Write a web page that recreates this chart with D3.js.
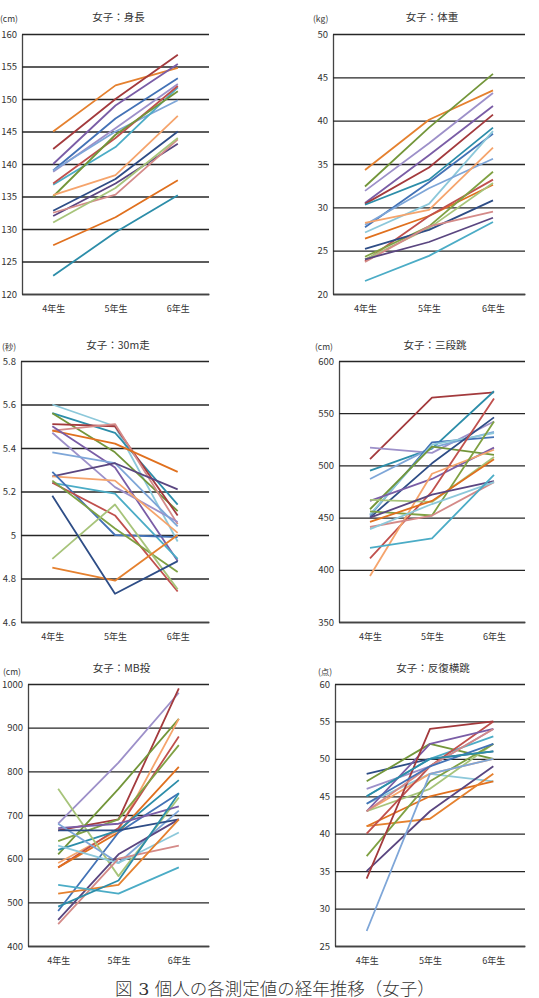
<!DOCTYPE html>
<html>
<head>
<meta charset="utf-8">
<script src="https://cdn.jsdelivr.net/npm/d3@7"></script>
<style>
  body { margin: 0; background: #fff; }
  svg text { font-family: "Noto Sans CJK JP", "Noto Sans", sans-serif; fill: #333; }
</style>
</head>
<body>
<div id="chart"></div>
<script>
// categories shared by all six panels
var grades = ["4年生", "5年生", "6年生"];

// 身長 (cm)
var heightSeries = [
  [145, 152.1, 154.8], [142.3, 150, 156.8], [140, 149, 155.4], [139, 147, 153.2],
  [138.8, 145.5, 152.3], [139, 145, 149.8], [136.8, 142.6, 151.8], [137, 144, 152],
  [135, 144.5, 151.2], [135.2, 138.3, 147.4], [132.8, 137.7, 145], [132, 137, 143.1],
  [132.5, 135.3, 143.8], [131, 136.3, 144], [127.5, 131.8, 137.5], [122.8, 129.5, 135.2]
];
var heightTicks = [120, 125, 130, 135, 140, 145, 150, 155, 160];

// 体重 (kg)
var weightSeries = [
  [34.3, 40.1, 43.5], [32.4, 39.2, 45.4], [31.9, 37.4, 43.2], [30.5, 36, 41.7],
  [30.4, 34.6, 40.7], [30.3, 33.2, 39.2], [27.7, 32.9, 38.5], [27.1, 30.4, 38.8],
  [28, 32.2, 35.6], [28.2, 29.7, 36.9], [26.4, 29, 32.6], [23.8, 29, 33.2],
  [24.3, 27.8, 34.1], [24, 27.6, 32.8], [25.2, 27.4, 30.8], [23.7, 27.8, 29.5],
  [24, 26, 28.8], [21.5, 24.4, 28.3]
];
var weightTicks = [20, 25, 30, 35, 40, 45, 50];

// 30m走 (秒)
var runSeries = [
  [5.60, 5.50, 4.97], [5.56, 5.47, 5.14], [5.56, 5.38, 5.11], [5.51, 5.50, 5.09],
  [5.48, 5.51, 5.05], [5.48, 5.42, 5.29], [5.50, 5.31, 4.88], [5.47, 5.22, 5.06],
  [5.38, 5.33, 5.04], [5.27, 5.33, 5.21], [5.27, 5.25, 5.01], [5.24, 5.19, 4.89],
  [5.29, 5.00, 4.99], [5.24, 5.09, 4.74], [5.25, 5.03, 4.83], [4.89, 5.14, 4.75],
  [4.85, 4.79, 5.00], [5.18, 4.73, 4.88]
];
var runTicks = [4.6, 4.8, 5, 5.2, 5.4, 5.6, 5.8];

// 三段跳 (cm)
var jumpSeries = [
  [506, 565, 570], [495, 516, 571], [517, 512, 542], [487, 517, 532],
  [452, 522, 527], [453, 520, 531], [458, 518, 510], [450, 502, 546],
  [466, 487, 517], [411, 475, 564], [394, 492, 515], [467, 465, 508],
  [456, 452, 542], [446, 466, 506], [450, 472, 485], [441, 452, 484],
  [439, 463, 484], [421, 430, 491]
];
var jumpTicks = [350, 400, 450, 500, 550, 600];

// MB投 (cm)
var throwSeries = [
  [680, 820, 980], [665, 690, 990], [610, 760, 920], [590, 665, 920],
  [580, 670, 880], [640, 690, 860], [580, 660, 810], [620, 665, 780],
  [480, 660, 750], [760, 560, 740], [670, 680, 720], [680, 590, 710],
  [665, 665, 690], [460, 610, 690], [630, 590, 660], [450, 600, 630],
  [520, 540, 690], [540, 520, 580], [490, 550, 750]
];
var throwTicks = [400, 500, 600, 700, 800, 900, 1000];

// 反復横跳 (点)
var stepSeries = [
  [48, 50, 51], [47, 52, 50], [46, 49, 54], [45, 50, 53], [44, 48, 47],
  [43, 48, 50], [43, 46, 52], [41, 45, 47], [41, 42, 48], [40, 49, 55],
  [43, 52, 54], [37, 47, 52], [35, 43, 49], [34, 54, 55], [27, 48, 50],
  [43, 49, 54], [44, 49, 52], [45, 50, 51]
];
var stepTicks = [25, 30, 35, 40, 45, 50, 55, 60];

// line colours (excel-ish palette)
var pal = {
  orange: "#E5812F", darkRed: "#A33A3D", purple: "#7A5DA6", blue: "#4372B6",
  lavender: "#9D90C9", lightBlue: "#7EA6D8", aqua: "#4BACC6", lightAqua: "#8CC8DA",
  red: "#C0504D", green: "#7FA143", lightGreen: "#A7C47A", peach: "#F5A46C",
  darkBlue: "#2E4D86", darkPurple: "#5A4680", pink: "#D48A88", darkOrange: "#E0701E",
  teal: "#2C8DA9", olive: "#73963A"
};
var heightColors = ["orange", "darkRed", "purple", "blue", "lavender", "lightBlue", "aqua", "red",
  "olive", "peach", "darkBlue", "darkPurple", "pink", "lightGreen", "darkOrange", "teal"];
var weightColors = ["orange", "olive", "lavender", "purple", "darkRed", "teal", "blue", "lightAqua",
  "lightBlue", "peach", "darkOrange", "red", "green", "lightGreen", "darkBlue", "pink", "darkPurple", "aqua"];
var runColors = ["lightAqua", "teal", "olive", "darkRed", "pink", "darkOrange", "purple", "lavender",
  "lightBlue", "darkPurple", "peach", "aqua", "blue", "red", "green", "lightGreen", "orange", "darkBlue"];
var jumpColors = ["darkRed", "teal", "lavender", "lightBlue", "blue", "lightAqua", "olive", "darkBlue",
  "purple", "red", "peach", "lightGreen", "green", "darkOrange", "darkPurple", "pink", "lightAqua", "aqua"];
var throwColors = ["lavender", "darkRed", "olive", "peach", "red", "green", "darkOrange", "teal",
  "blue", "lightGreen", "purple", "lightBlue", "darkBlue", "darkPurple", "lightAqua", "pink", "orange", "aqua", "teal"];
var stepColors = ["darkBlue", "olive", "lavender", "aqua", "lightAqua", "peach", "lightGreen", "darkOrange",
  "orange", "red", "purple", "green", "darkPurple", "darkRed", "lightBlue", "pink", "blue", "teal"];

var panels = [
  {title: "女子：身長", unit: "(cm)", series: heightSeries, colors: heightColors, ticks: heightTicks,
   left: 22, right: 209, top: 34, bottom: 294, titleY: 21, unitX: 0, unitY: 22},
  {title: "女子：体重", unit: "(kg)", series: weightSeries, colors: weightColors, ticks: weightTicks,
   left: 333, right: 525, top: 34, bottom: 294, titleY: 21, unitX: 313, unitY: 22},
  {title: "女子：30m走", unit: "(秒)", series: runSeries, colors: runColors, ticks: runTicks,
   left: 21, right: 209, top: 361, bottom: 622, titleY: 349, unitX: 2, unitY: 350},
  {title: "女子：三段跳", unit: "(cm)", series: jumpSeries, colors: jumpColors, ticks: jumpTicks,
   left: 339, right: 525, top: 361, bottom: 622, titleY: 349, unitX: 315, unitY: 350},
  {title: "女子：MB投", unit: "(cm)", series: throwSeries, colors: throwColors, ticks: throwTicks,
   left: 28, right: 209, top: 684, bottom: 946, titleY: 672, unitX: 3, unitY: 675},
  {title: "女子：反復横跳", unit: "(点)", series: stepSeries, colors: stepColors, ticks: stepTicks,
   left: 335, right: 525, top: 684, bottom: 946, titleY: 672, unitX: 318, unitY: 675}
];

var svg = d3.select("#chart").append("svg")
  .attr("width", 539)
  .attr("height", 998);

panels.forEach(function(p) {
  var w = p.right - p.left;
  var x = d3.scalePoint().domain(grades).range([p.left, p.right]).padding(0.5);
  var y = d3.scaleLinear().domain(d3.extent(p.ticks)).range([p.bottom, p.top]);

  // gridlines + left axis
  var yAxis = svg.append("g")
    .attr("transform", "translate(" + p.left + ",0)")
    .call(d3.axisLeft(y).tickValues(p.ticks).tickSize(-w).tickSizeOuter(0)
      .tickPadding(5).tickFormat(function(d) { return String(d); }));
  yAxis.selectAll("line").attr("stroke", "#262626").attr("stroke-width", 1.3);
  yAxis.select(".domain").attr("stroke", "#444").attr("stroke-width", 1.3);
  yAxis.selectAll("text").attr("font-size", 9.5).attr("fill", "#333");

  // bottom axis
  var xAxis = svg.append("g")
    .attr("transform", "translate(0," + p.bottom + ")")
    .call(d3.axisBottom(x).tickSize(0).tickPadding(12));
  xAxis.select(".domain").attr("stroke", "#444").attr("stroke-width", 1.3);
  xAxis.selectAll("text").attr("font-size", 9).attr("fill", "#333");

  var line = d3.line()
    .x(function(d, i) { return x(grades[i]); })
    .y(function(d) { return y(d); });

  svg.append("g").selectAll("path")
    .data(p.series)
    .join("path")
    .attr("d", line)
    .attr("fill", "none")
    .attr("stroke", function(d, i) { return pal[p.colors[i]]; })
    .attr("stroke-width", 1.8)
    .attr("stroke-linejoin", "round");

  svg.append("text")
    .attr("x", x(grades[1]) + 3)
    .attr("y", p.titleY)
    .attr("text-anchor", "middle")
    .attr("font-size", 10.5)
    .text(p.title);

  svg.append("text")
    .attr("x", p.unitX)
    .attr("y", p.unitY)
    .attr("font-size", 8.5)
    .text(p.unit);
});

svg.append("text")
  .attr("x", 275)
  .attr("y", 995)
  .attr("text-anchor", "middle")
  .attr("font-size", 17.5)
  .style("font-family", "'DejaVu Serif', 'Noto Sans CJK JP', serif")
  .style("font-weight", 300)
  .attr("fill", "#333")
  .text("図 3 個人の各測定値の経年推移（女子）");
</script>
</body>
</html>
